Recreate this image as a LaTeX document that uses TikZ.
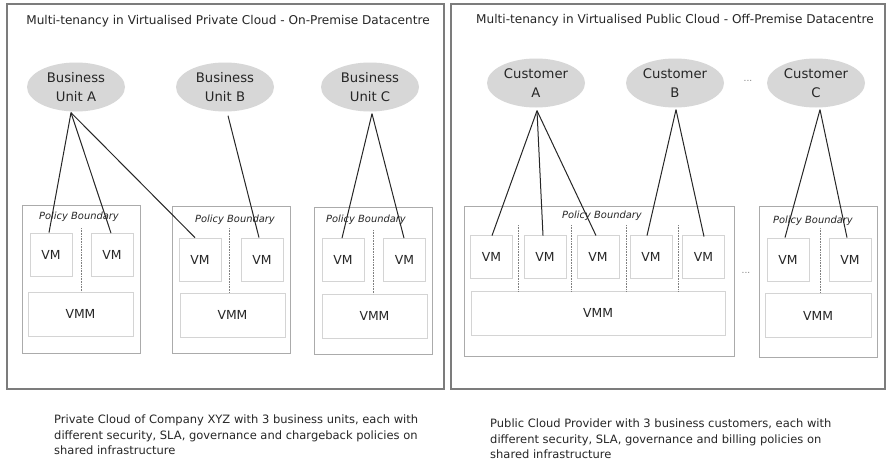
\documentclass[tikz,border=0pt]{standalone}
\usepackage{fontspec}
\setmainfont{DejaVu Sans}
\usetikzlibrary{shapes.geometric}
\definecolor{framegray}{HTML}{7C7C7C}
\definecolor{pbgray}{HTML}{ABABAB}
\definecolor{vmgray}{HTML}{D4D4D4}
\definecolor{tenantfill}{HTML}{D7D7D7}
\definecolor{inkgray}{HTML}{262626}
\tikzset{
  frame/.style={draw=framegray,line width=1.6pt},
  tenant/.style={ellipse,fill=tenantfill,draw=none,minimum width=98pt,minimum height=49pt,
    inner sep=0pt,align=center,font=\fontsize{13.2}{19.5}\selectfont,text=inkgray},
  policybox/.style={draw=pbgray,line width=0.9pt,inner sep=0pt},
  vmbox/.style={draw=vmgray,line width=0.8pt,minimum width=42pt,minimum height=43pt,inner sep=0pt,
    font=\fontsize{12.4}{14}\selectfont,text=inkgray},
  vmmbox/.style={draw=vmgray,line width=0.8pt,minimum height=44pt,inner sep=0pt,
    font=\fontsize{12.4}{14}\selectfont,text=inkgray},
  pblabel/.style={font=\itshape\fontsize{9.9}{11}\selectfont,text=inkgray,inner sep=0pt},
  sep/.style={draw=gray,densely dotted,line width=0.6pt},
  link/.style={draw=black!85,line width=1pt},
  title/.style={font=\fontsize{12.1}{14}\selectfont,text=inkgray,inner sep=0pt},
  caption/.style={font=\fontsize{11.5}{15.5}\selectfont,text=inkgray,align=left,inner sep=0pt,anchor=north west},
  ell/.style={text=gray,font=\fontsize{9}{10}\selectfont,inner sep=0pt}
}
\begin{document}
\begin{tikzpicture}[x=1pt,y=-1pt]
\useasboundingbox (0,0) rectangle (886,471);
\fill[white] (0,0) rectangle (886,471);

% ---------- private cloud ----------
\draw[frame] (7,4) rectangle (444,389);
\node[title] (ttlL) at (228,21) {Multi-tenancy in Virtualised Private Cloud - On-Premise Datacentre};

\node[tenant] (ua) at (76,87) {Business\\Unit A};
\node[tenant] (ub) at (225,87) {Business\\Unit B};
\node[tenant] (uc) at (370,87) {Business\\Unit C};

% policy boundaries
\node[policybox,minimum width=118pt,minimum height=148pt] (pb1) at (81,279) {};
\node[policybox,minimum width=118pt,minimum height=147pt] (pb2) at (231,279.5) {};
\node[policybox,minimum width=118pt,minimum height=147pt] (pb3) at (373,280.5) {};
\node[pblabel] (pl1) at (79,217) {Policy Boundary};
\node[pblabel] (pl2) at (235,220) {Policy Boundary};
\node[pblabel] (pl3) at (366,220) {Policy Boundary};

\node[vmbox] (l1a) at (51,254.5) {VM};
\node[vmbox] (l1b) at (112,255) {VM};
\node[vmmbox,minimum width=105pt] (l1m) at (80.5,314) {VMM};
\draw[sep] (81,228) -- (81,292);

\node[vmbox] (l2a) at (200,259.5) {VM};
\node[vmbox] (l2b) at (262,259.5) {VM};
\node[vmmbox,minimum width=105pt] (l2m) at (232.5,315) {VMM};
\draw[sep] (229,228) -- (229,293);

\node[vmbox] (l3a) at (343,260) {VM};
\node[vmbox] (l3b) at (404.5,260) {VM};
\node[vmmbox,minimum width=105pt] (l3m) at (374.5,316) {VMM};
\draw[sep] (373,230) -- (373,294);

% tenant links
\draw[link] ([xshift=-5pt,yshift=-1pt]ua.south) -- ([xshift=-2pt]l1a.north);
\draw[link] ([xshift=-5pt,yshift=-1pt]ua.south) -- ([xshift=-1pt]l1b.north);
\draw[link] ([xshift=-5pt,yshift=-1pt]ua.south) -- ([xshift=-5pt]l2a.north);
\draw[link] ([xshift=3pt,yshift=-4pt]ub.south) -- ([xshift=-3pt]l2b.north);
\draw[link] ([xshift=2pt,yshift=-2pt]uc.south) -- ([xshift=-1pt]l3a.north);
\draw[link] ([xshift=2pt,yshift=-2pt]uc.south) -- ([xshift=-0.5pt]l3b.north);

\node[caption] (capL) at (54,415) {Private Cloud of Company XYZ with 3 business units, each with\\different security, SLA, governance and chargeback policies on\\shared infrastructure};

% ---------- public cloud ----------
\draw[frame] (451,4) rectangle (885,389);
\node[title] (ttlR) at (675,20) {Multi-tenancy in Virtualised Public Cloud - Off-Premise Datacentre};

\node[tenant] (ca) at (536,83) {Customer\\A};
\node[tenant] (cb) at (675,83) {Customer\\B};
\node[tenant] (cc) at (816,83) {Customer\\C};
\node[ell] (dotsT) at (748,81) {...};

\node[policybox,minimum width=270pt,minimum height=150pt] (pr1) at (599,281) {};
\node[pblabel] (prl1) at (602,216) {Policy Boundary};
\node[vmbox] (r1) at (491.5,256.5) {VM};
\node[vmbox] (r2) at (545,256.5) {VM};
\node[vmbox] (r3) at (598,256.5) {VM};
\node[vmbox] (r4) at (651,256.5) {VM};
\node[vmbox] (r5) at (703.5,256.5) {VM};
\node[vmmbox,minimum width=254pt] (rm) at (598,313) {VMM};
\foreach \xx in {518,571,626,678} \draw[sep] (\xx,225) -- (\xx,291);

\node[ell] (dotsM) at (746,273) {...};

\node[policybox,minimum width=118pt,minimum height=151pt] (pr2) at (818,281.5) {};
\node[pblabel] (prl2) at (813,221) {Policy Boundary};
\node[vmbox] (s1) at (788,259.5) {VM};
\node[vmbox] (s2) at (850,259.5) {VM};
\node[vmmbox,minimum width=106pt] (sm) at (818,315.5) {VMM};
\draw[sep] (820,228) -- (820,293);

\draw[link] ([xshift=1pt,yshift=-3pt]ca.south) -- ([xshift=0.5pt,yshift=-1pt]r1.north);
\draw[link] ([xshift=1pt,yshift=-3pt]ca.south) -- ([xshift=-2pt,yshift=-1pt]r2.north);
\draw[link] ([xshift=1pt,yshift=-3pt]ca.south) -- ([xshift=-2pt,yshift=-1pt]r3.north);
\draw[link] ([xshift=1pt,yshift=-2pt]cb.south) -- ([xshift=-4pt,yshift=-1pt]r4.north);
\draw[link] ([xshift=1pt,yshift=-2pt]cb.south) -- ([xshift=0.5pt,yshift=-2pt]r5.north);
\draw[link] ([xshift=4pt,yshift=-2pt]cc.south) -- ([xshift=-3pt]s1.north);
\draw[link] ([xshift=4pt,yshift=-2pt]cc.south) -- ([xshift=-3pt]s2.north);

\node[caption] (capR) at (490,419) {Public Cloud Provider with 3 business customers, each with\\different security, SLA, governance and billing policies on\\shared infrastructure};
\end{tikzpicture}
\end{document}
